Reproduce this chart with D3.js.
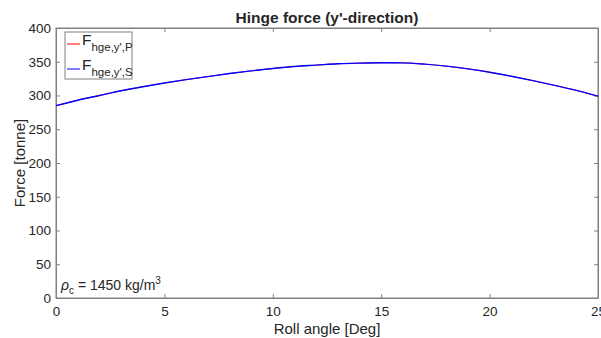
<!DOCTYPE html>
<html>
<head>
<meta charset="utf-8">
<script src="https://cdn.jsdelivr.net/npm/d3@7"></script>
<style>
  body { margin: 0; background: #fff; }
  text { font-family: "Liberation Sans", Arial, sans-serif; fill: #262626; }
</style>
</head>
<body>
<div id="chart"></div>
<script>
const rollAngle = [0, 1, 2, 3, 4, 5, 6, 7, 8, 9, 10, 11, 12, 13, 14, 15, 16, 17, 18, 19, 20, 21, 22, 23, 24, 25]
// port side force, hidden under starboard curve
const forcePort = [285, 293, 300, 307, 313, 318.5, 323.5, 328, 332.5, 336.5, 340, 343, 345, 347, 348, 348.5, 348.3, 346.5, 343.5, 339.5, 334.5, 328.5, 322, 315, 307.5, 299]
const forceStbd = [285, 293, 300, 307, 313, 318.5, 323.5, 328, 332.5, 336.5, 340, 343, 345, 347, 348, 348.5, 348.3, 346.5, 343.5, 339.5, 334.5, 328.5, 322, 315, 307.5, 299]
const xTicks = [0, 5, 10, 15, 20, 25]
const yTicks = [0, 50, 100, 150, 200, 250, 300, 350, 400]

const W = 601, H = 338
const margin = { top: 28, right: 3, bottom: 40, left: 56 }
const iw = W - margin.left - margin.right
const ih = H - margin.top - margin.bottom

const svg = d3.select("#chart").append("svg")
  .attr("width", W)
  .attr("height", H)

const g = svg.append("g")
  .attr("transform", `translate(${margin.left},${margin.top})`)

const x = d3.scaleLinear().domain([0, 25]).range([0, iw])
const y = d3.scaleLinear().domain([0, 400]).range([ih, 0])

const axisCol = "#808080"

// bottom axis
const xAxis = g.append("g")
  .attr("transform", `translate(0,${ih})`)
  .call(d3.axisBottom(x).tickValues(xTicks).tickSizeInner(-4).tickSizeOuter(0).tickPadding(8))
// top mirror ticks
const xTop = g.append("g")
  .call(d3.axisTop(x).tickValues(xTicks).tickSizeInner(-4).tickSizeOuter(0).tickFormat(""))
const yAxis = g.append("g")
  .call(d3.axisLeft(y).tickValues(yTicks).tickSizeInner(-4).tickSizeOuter(0).tickPadding(5))
const yRight = g.append("g")
  .attr("transform", `translate(${iw},0)`)
  .call(d3.axisRight(y).tickValues(yTicks).tickSizeInner(-4).tickSizeOuter(0).tickFormat(""))

;[xAxis, xTop, yAxis, yRight].forEach(a => {
  a.select(".domain").attr("stroke", axisCol)
  a.selectAll(".tick line").attr("stroke", axisCol)
  a.selectAll("text").style("font-size", "13.5px").attr("fill", "#262626")
})

// box
g.append("rect")
  .attr("x", 0).attr("y", 0)
  .attr("width", iw).attr("height", ih)
  .attr("fill", "none")
  .attr("stroke", axisCol)

const line = d3.line()
  .x((d, i) => x(rollAngle[i]))
  .y(d => y(d))
  .curve(d3.curveMonotoneX)

g.append("path").datum(forcePort)
  .attr("d", line).attr("fill", "none").attr("stroke", "#ff0000").attr("stroke-width", 0.8)
g.append("path").datum(forceStbd)
  .attr("d", line).attr("fill", "none").attr("stroke", "#0000ff").attr("stroke-width", 1.4)

// title
svg.append("text")
  .attr("x", margin.left + iw / 2)
  .attr("y", 23)
  .attr("text-anchor", "middle")
  .style("font-size", "15.5px")
  .style("font-weight", "bold")
  .attr("fill", "#000")
  .text("Hinge force (y'-direction)")

// axis labels
svg.append("text")
  .attr("x", margin.left + iw / 2)
  .attr("y", 334)
  .attr("text-anchor", "middle")
  .style("font-size", "15px")
  .text("Roll angle [Deg]")

svg.append("text")
  .attr("transform", `translate(25,${margin.top + ih / 2}) rotate(-90)`)
  .attr("text-anchor", "middle")
  .style("font-size", "15px")
  .text("Force [tonne]")

// legend
const legend = svg.append("g").attr("transform", "translate(65,32)")
legend.append("rect")
  .attr("width", 67).attr("height", 47)
  .attr("fill", "#fff").attr("stroke", axisCol)

const entries = [
  { sub: "hge,y',P", color: "#ff0000" },
  { sub: "hge,y',S", color: "#0000ff" }
]
entries.forEach((e, i) => {
  const ly = 12 + i * 25
  legend.append("line")
    .attr("x1", 2).attr("x2", 15).attr("y1", ly).attr("y2", ly)
    .attr("stroke", e.color)
  const t = legend.append("text")
    .attr("x", 17).attr("y", ly + 1)
    .style("font-size", "15.5px")
    .attr("fill", "#000")
  t.append("tspan").text("F")
  t.append("tspan").attr("dy", 6).style("font-size", "11.5px").text(e.sub)
})

// annotation
const ann = svg.append("text")
  .attr("x", 61)
  .attr("y", 290)
  .style("font-size", "14px")
  .attr("fill", "#000")
ann.append("tspan").style("font-style", "italic").text("ρ")
ann.append("tspan").attr("dy", 4).style("font-size", "10px").text("c")
ann.append("tspan").attr("dy", -4).text(" = 1450 kg/m")
ann.append("tspan").attr("dy", -6).style("font-size", "10px").text("3")
</script>
</body>
</html>
